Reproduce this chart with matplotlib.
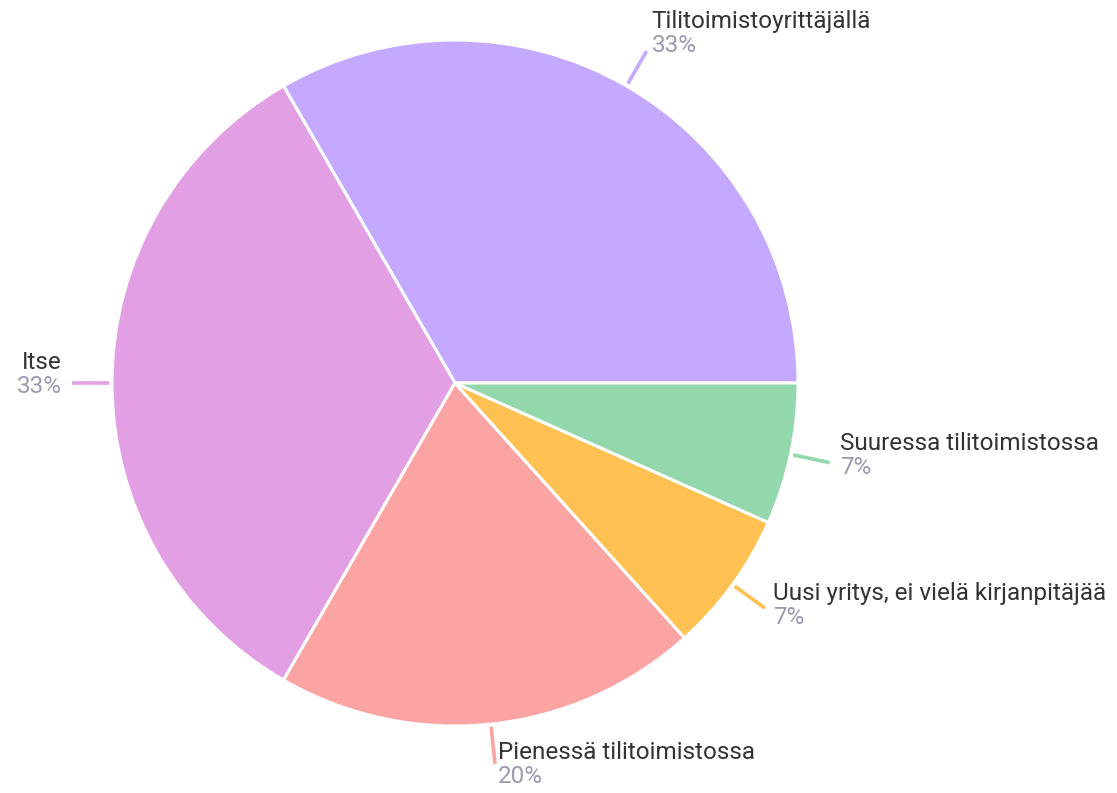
import numpy as np
import matplotlib
matplotlib.use("Agg")
import matplotlib.pyplot as plt

labels = ["Tilitoimistoyrittäjällä", "Itse", "Pienessä tilitoimistossa",
          "Uusi yritys, ei vielä kirjanpitäjää", "Suuressa tilitoimistossa"]
counts = [5, 5, 3, 1, 1]
pct_labels = ["33%", "33%", "20%", "7%", "7%"]
colors = ["#c5a8ff", "#e29fe3", "#fca4a4", "#ffc152", "#93d8ac"]

W, H = 1117, 793
fig = plt.figure(figsize=(W / 100, H / 100), dpi=100)
ax = fig.add_axes([0, 0, 1, 1])

cx, cy, R = 455, H - 383, 343
wedges, _ = ax.pie(counts, colors=colors, startangle=0, counterclock=True,
                   center=(cx, cy), radius=R, frame=True,
                   wedgeprops=dict(edgecolor="white", linewidth=2.2))
ax.set_xlim(0, W)
ax.set_ylim(0, H)
ax.set_aspect("equal")
ax.axis("off")

font = "Roboto"
fs = 17.5
for w, lab, pct, col in zip(wedges, labels, pct_labels, colors):
    ang = np.deg2rad((w.theta1 + w.theta2) / 2)
    c, s = np.cos(ang), np.sin(ang)
    x0, y0 = cx + R * 1.008 * c, cy + R * 1.008 * s
    x1, y1 = cx + R * 1.117 * c, cy + R * 1.117 * s
    ax.plot([x0, x1], [y0, y1], color=col, lw=2.6, solid_capstyle="butt")
    pct_y = y1 - (3 - 10 * s)
    if c < -0.3:
        ha, tx = "right", x1 - 10
    else:
        ha, tx = "left", x1 + 3 + 8 * max(c, 0) ** 2
    ax.text(tx, pct_y, pct, ha=ha, va="center", fontsize=fs,
            color="#9a9ab0", family=font)
    ax.text(tx, pct_y + 24, lab, ha=ha, va="center", fontsize=fs,
            color="#333333", family=font)

fig.savefig("out.png", dpi=100)
